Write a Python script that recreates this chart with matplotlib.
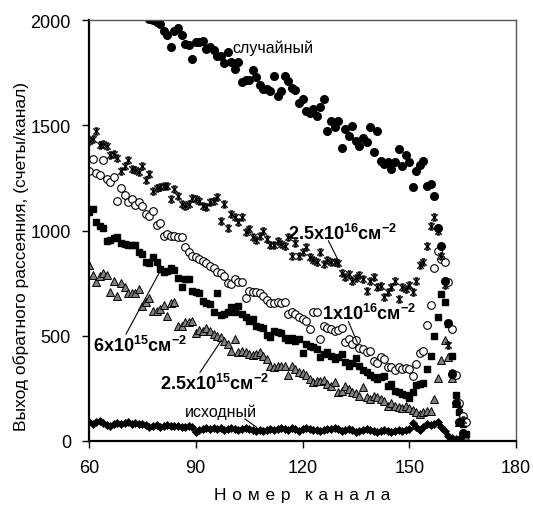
import matplotlib
matplotlib.use('Agg')
import matplotlib.pyplot as plt
from matplotlib.path import Path
import numpy as np

plt.rcParams['font.family'] = ['Liberation Sans', 'DejaVu Sans']
plt.rcParams['mathtext.fontset'] = 'custom'
plt.rcParams['mathtext.rm'] = 'Liberation Sans'
plt.rcParams['mathtext.bf'] = 'Liberation Sans:bold'

# номер канала для каждой серии
ch_random = np.arange(77, 166)
ch_main = np.arange(60, 166)
ch_long = np.arange(60, 167)

# случайный (заполненные кружки)
y_random = [2005, 2000, 1990, 1980, 1950, 1929, 1870, 1946, 1960, 1929,
            1886, 1881, 1815, 1894, 1894, 1901, 1862, 1870, 1857, 1830,
            1827, 1794, 1847, 1799, 1767, 1802, 1704, 1717, 1715, 1764,
            1728, 1691, 1672, 1672, 1663, 1736, 1641, 1664, 1736, 1712,
            1679, 1667, 1606, 1624, 1569, 1558, 1577, 1545, 1585, 1624,
            1474, 1521, 1490, 1521, 1390, 1482, 1447, 1498, 1427, 1403,
            1438, 1419, 1493, 1371, 1471, 1332, 1316, 1327, 1292, 1327,
            1387, 1308, 1360, 1324, 1205, 1284, 1313, 1332, 1213, 1219,
            1166, 1014, 925, 760, 560, 320, 180, 90, 40]

# 2.5x10^16 (звёздочки), каналы 60..165
y_25e16 = [1427, 1435, 1474, 1406, 1411, 1403, 1359, 1363, 1343, 1284,
           1308, 1336, 1292, 1289, 1277, 1305, 1240, 1268, 1190, 1201,
           1205, 1213, 1213, 1150, 1197, 1165, 1126, 1115, 1126, 1153,
           1150, 1142, 1118, 1110, 1134, 1142, 1158, 1046, 1126, 1014,
           1078, 1062, 1040, 1062, 991, 1007, 970, 956, 975, 999,
           960, 931, 931, 950, 935, 925, 967, 877, 940, 877,
           900, 920, 872, 860, 851, 896, 841, 860, 849, 851,
           845, 800, 778, 793, 762, 773, 790, 770, 714, 762,
           778, 730, 738, 683, 707, 731, 760, 675, 731, 720,
           740, 707, 760, 834, 850, 925, 1020, 1062, 1000, 880,
           741, 455, 323, 200, 150, 100]

# 1x10^16 (пустые кружки), каналы 60..166
y_1e16 = [1284, 1340, 1273, 1265, 1336, 1245, 1229, 1253, 1142, 1202,
          1169, 1137, 1150, 1121, 1134, 1118, 1078, 1068, 1094, 1026,
          1036, 972, 983, 975, 972, 968, 968, 923, 899, 880,
          873, 865, 857, 846, 833, 820, 801, 798, 785, 751,
          746, 770, 757, 754, 678, 714, 706, 709, 703, 690,
          671, 654, 656, 659, 656, 659, 603, 614, 603, 588,
          580, 572, 532, 614, 611, 485, 548, 535, 532, 524,
          529, 535, 472, 485, 460, 481, 440, 437, 421, 429,
          381, 370, 398, 390, 350, 350, 339, 350, 342, 347,
          342, 310, 366, 418, 429, 551, 646, 822, 904, 865,
          849, 754, 532, 313, 180, 120, 89]

# 6x10^15 (квадраты), каналы 60..166
y_6e15 = [1086, 1102, 1039, 1023, 1010, 952, 956, 963, 968, 940,
          935, 931, 931, 931, 896, 888, 852, 846, 873, 849,
          817, 801, 809, 820, 814, 773, 730, 770, 770, 714,
          706, 703, 666, 656, 651, 611, 703, 599, 603, 614,
          635, 611, 640, 603, 588, 572, 580, 545, 540, 538,
          503, 492, 524, 519, 513, 488, 481, 488, 477, 485,
          418, 461, 453, 445, 437, 398, 413, 421, 405, 389,
          400, 413, 377, 358, 371, 394, 358, 339, 327, 314,
          302, 295, 302, 310, 260, 271, 239, 231, 223, 219,
          203, 234, 266, 271, 276, 342, 405, 498, 588, 698,
          662, 556, 405, 220, 136, 80, 33]

# 2.5x10^15 (треугольники), каналы 60..166
y_25e15 = [836, 789, 754, 785, 798, 789, 709, 761, 690, 751,
           730, 701, 701, 701, 722, 640, 662, 678, 619, 619,
           627, 646, 595, 656, 659, 545, 545, 567, 567, 572,
           513, 529, 524, 535, 524, 508, 497, 493, 477, 461,
           429, 485, 421, 429, 421, 413, 408, 413, 421, 405,
           389, 355, 350, 355, 358, 358, 314, 358, 342, 329,
           323, 314, 295, 279, 287, 287, 292, 271, 260, 282,
           231, 239, 263, 247, 234, 228, 215, 255, 207, 200,
           215, 207, 200, 192, 168, 180, 168, 160, 155, 168,
           155, 149, 139, 127, 136, 141, 144, 200, 300, 385,
           481, 400, 300, 180, 90, 40, 15]

# исходный (ромбы), каналы 60..165
y_virgin = [92, 80, 88, 95, 85, 78, 70, 80, 85, 80,
            85, 88, 82, 85, 80, 82, 78, 65, 70, 75,
            68, 72, 75, 72, 70, 72, 68, 65, 70, 65,
            42, 50, 55, 62, 55, 62, 55, 60, 52, 55,
            62, 58, 50, 55, 62, 58, 52, 48, 50, 48,
            50, 55, 52, 56, 60, 55, 52, 62, 58, 48,
            55, 60, 56, 52, 50, 48, 52, 55, 58, 62,
            55, 48, 52, 56, 50, 45, 48, 52, 56, 52,
            48, 45, 48, 52, 48, 45, 48, 50, 46, 50,
            55, 85, 68, 50, 65, 82, 75, 80, 90, 65,
            48, 22, 14, 10, 8, 4]

star_path = Path([(-1, -1), (1, 1), (-1, 1), (1, -1), (0, -1.1), (0, 1.1),
                  (-0.55, 1.1), (0.55, 1.1), (-0.55, -1.1), (0.55, -1.1)],
                 [Path.MOVETO, Path.LINETO] * 5)

fig = plt.figure(figsize=(5.33, 5.06), dpi=100)
ax = fig.add_axes([89 / 533, 1 - 442 / 506, 427 / 533, 421 / 506])

ax.plot(ch_main, y_virgin, ls='none', marker='D', ms=4, color='black',
        mec='black', mew=0.5)
ax.plot(ch_long, y_25e15, ls='none', marker='^', ms=5.5, mfc='#808080',
        mec='black', mew=0.7)
ax.plot(ch_long, y_6e15, ls='none', marker='s', ms=5, color='black')
ax.plot(ch_long, y_1e16, ls='none', marker='o', ms=5.5, mfc='white',
        mec='black', mew=0.8)
ax.plot(ch_main, y_25e16, ls='none', marker=star_path, ms=5, mfc='none',
        mec='black', mew=1.0)
ax.plot(ch_random, y_random, ls='none', marker='o', ms=5.5, color='black')

ax.set_xlim(60, 180)
ax.set_ylim(0, 2000)
ax.set_xticks([60, 90, 120, 150, 180])
ax.set_yticks([0, 500, 1000, 1500, 2000])
ax.tick_params(direction='out', length=5, width=1, labelsize=13, color='black')
ax.tick_params(axis='x', pad=8)
ax.tick_params(axis='y', pad=8)

for s in ['left', 'bottom']:
    ax.spines[s].set_linewidth(1.6)
    ax.spines[s].set_color('black')
for s in ['top', 'right']:
    ax.spines[s].set_linewidth(1.0)
    ax.spines[s].set_color('#555555')

sp = '\u2004'
xlab = sp.join('Номер') + sp + '\u2002' + sp.join('канала')
ax.set_xlabel(xlab, fontsize=12.5, labelpad=8)
ax.set_ylabel('Выход обратного рассеяния, (счеты/канал)', fontsize=12.5)
ax.yaxis.set_label_coords(-0.14, 0.44)

# подписи
ax.text(100.4, 1872, 'случайный', fontsize=11.5, va='center', ha='left')
ax.text(87, 142, 'исходный', fontsize=11.5, va='center', ha='left')
lab = dict(fontsize=13, fontweight='bold', ha='left', va='baseline')
ax.text(115.9, 960, r'2.5x10$^{\mathbf{16}}$см$^{\mathbf{-2}}$', **lab)
ax.text(125.4, 580, r'1x10$^{\mathbf{16}}$см$^{\mathbf{-2}}$', **lab)
ax.text(61.2, 429, r'6x10$^{\mathbf{15}}$см$^{\mathbf{-2}}$', **lab)
ax.text(80.0, 247, r'2.5x10$^{\mathbf{15}}$см$^{\mathbf{-2}}$', **lab)

# выноски
ax.plot([127.3, 130.1], [951, 856], color='black', lw=0.8)
ax.plot([132.9, 135.4], [567, 469], color='black', lw=0.8)
ax.plot([70.4, 79.8], [508, 801], color='black', lw=0.8)
ax.plot([91.2, 97.1], [326, 476], color='black', lw=0.8)
ax.plot([103.8, 107.1], [105, 65], color='black', lw=0.8)

plt.savefig('out.png', dpi=100)
